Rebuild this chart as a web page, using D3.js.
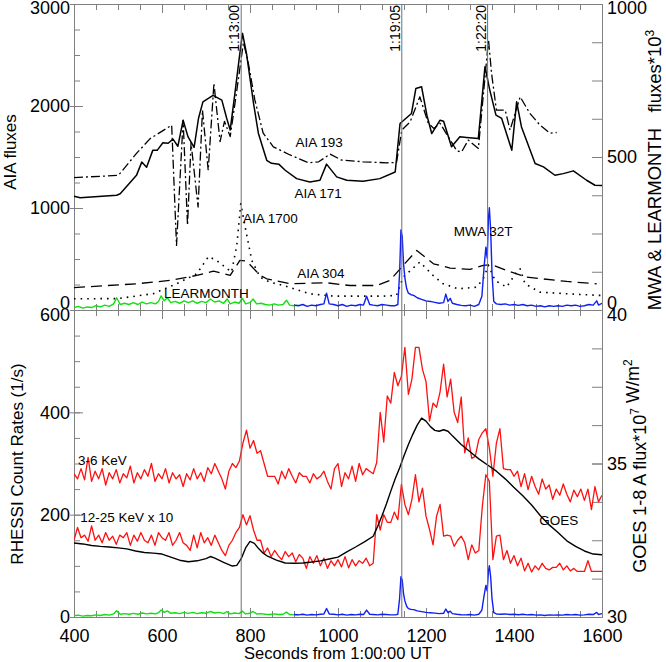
<!DOCTYPE html>
<html><head><meta charset="utf-8">
<script src="https://cdn.jsdelivr.net/npm/d3@7"></script>
<style>body{margin:0;background:#fff} text{font-family:"Liberation Sans",Arial,Helvetica,sans-serif}</style>
</head><body><svg id="c" width="666" height="662"></svg>
<script>
// ---------------- DATA ----------------
const markerTimes = [780, 1145, 1340];
const markerLabels = ["1:13:00", "1:19:05", "1:22:20"];

const aia171 = [[400,1115],[414,1100],[497,1125],[505,1140],[542,1320],[554,1450],[565,1400],[579,1565],[589,1565],[602,1640],[614,1635],[625,1675],[636,1605],[648,1860],[659,1700],[673,1595],[683,1880],[693,2040],[716,2105],[736,2058],[747,1880],[755,1765],[765,2100],[775,2450],[783,2712],[792,2515],[808,2027],[819,1733],[838,1468],[849,1438],[866,1428],[880,1370],[906,1288],[936,1255],[959,1272],[974,1430],[997,1305],[1020,1272],[1057,1262],[1095,1288],[1130,1353],[1141,1828],[1167,1927],[1177,2172],[1190,2188],[1202,1910],[1213,1730],[1232,1861],[1240,1850],[1258,1600],[1277,1698],[1292,1692],[1319,1682],[1334,2386],[1345,2156],[1359,1910],[1372,1878],[1395,1567],[1406,2041],[1417,1795],[1448,1436],[1467,1403],[1493,1321],[1512,1337],[1535,1364],[1565,1272],[1584,1223],[1600,1220]];

const aia193 = [[400,1298],[501,1320],[542,1535],[573,1680],[622,1812],[633,633],[648,1860],[658,830],[666,1640],[682,1010],[692,1960],[705,1370],[718,2222],[732,1650],[742,1850],[755,1700],[770,2150],[785,2620],[795,2450],[811,2060],[830,1733],[853,1600],[891,1520],[933,1443],[956,1453],[982,1528],[1008,1470],[1057,1453],[1111,1443],[1133,1446],[1145,1764],[1164,1845],[1186,2090],[1205,1832],[1218,1780],[1232,1830],[1270,1560],[1281,1550],[1296,1666],[1319,1584],[1342,2650],[1349,2320],[1360,1960],[1380,1960],[1391,1764],[1414,2090],[1436,1928],[1459,1813],[1482,1733],[1497,1740]];

const aia1700 = [[400,110],[500,112],[580,160],[633,257],[679,355],[706,525],[724,486],[758,371],[770,633],[779,1043],[789,813],[804,486],[823,322],[845,273],[876,240],[936,159],[989,136],[1103,136],[1133,143],[1148,322],[1186,470],[1216,339],[1239,257],[1273,208],[1315,224],[1330,306],[1342,437],[1357,290],[1383,224],[1406,371],[1414,404],[1425,257],[1459,175],[1520,159],[1595,143],[1600,143]];

const aia304 = [[400,220],[542,257],[618,290],[679,339],[717,381],[755,339],[777,486],[792,480],[823,339],[838,306],[891,257],[974,267],[1027,240],[1088,240],[1118,290],[1148,437],[1179,584],[1217,453],[1255,411],[1300,398],[1330,437],[1349,444],[1383,388],[1429,322],[1520,280],[1588,257]];

const learmonth = [[400,8],[410,12],[420,6],[430,10],[440,8],[450,14],[460,10],[470,16],[480,12],[490,20],[497,40],[505,18],[515,22],[525,18],[535,24],[545,18],[555,26],[565,20],[575,24],[585,20],[592,28],[598,46],[605,30],[612,40],[620,24],[630,28],[640,22],[650,30],[660,24],[670,30],[680,22],[690,28],[700,24],[710,36],[720,26],[730,30],[740,22],[748,36],[755,20],[765,26],[775,22],[783,38],[790,20],[800,24],[807,36],[815,20],[825,22],[835,18],[845,16],[855,20],[865,16],[875,18],[883,32],[890,16],[900,14],[910,16]];

const mwa32t = [[900,16],[910,14],[920,18],[930,12],[940,16],[950,14],[960,18],[968,20],[974,55],[980,20],[990,18],[1000,14],[1010,18],[1020,12],[1030,16],[1040,14],[1050,18],[1058,16],[1065,45],[1072,18],[1080,16],[1090,14],[1100,18],[1110,16],[1120,14],[1130,14],[1136,18],[1140,120],[1143,262],[1146,240],[1149,150],[1152,105],[1156,70],[1160,55],[1166,50],[1172,48],[1180,40],[1190,35],[1200,30],[1210,28],[1220,25],[1230,22],[1240,24],[1245,52],[1250,28],[1255,38],[1260,22],[1270,18],[1280,15],[1290,14],[1300,16],[1310,12],[1320,18],[1327,45],[1332,140],[1336,205],[1339,170],[1342,300],[1344,334],[1347,260],[1350,120],[1354,28],[1360,20],[1370,18],[1380,20],[1390,16],[1400,18],[1410,15],[1420,18],[1430,14],[1440,16],[1450,12],[1460,14],[1470,10],[1480,14],[1490,12],[1500,14],[1510,12],[1520,16],[1530,14],[1540,16],[1550,12],[1560,14],[1570,18],[1580,16],[1588,30],[1592,16],[1600,22]];

// RHESSI, 8 s cadence starting at 400 s
const rhessiStart = 400, rhessiStep = 8;
const rhessi3to6 = [
 280,270,290,268,312,265,285,270,290,258,
 282,270,288,262,280,272,295,262,282,270,
 288,275,300,265,280,270,290,262,282,270,
 278,255,280,268,290,270,282,265,292,280,
 300,285,270,250,285,300,292,305,340,365,
 330,345,320,325,300,275,275,275,260,285,
 270,290,275,262,282,275,275,262,280,270,
 275,285,265,250,290,300,255,282,270,295,
 265,300,278,290,285,280,302,400,342,432,
 418,478,452,470,527,435,465,527,527,484,
 460,383,418,410,440,494,430,465,400,380,
 430,321,350,310,314,347,360,368,330,275,
 340,368,290,288,288,275,285,255,280,249,
 275,255,240,270,250,258,230,250,238,260,
 240,225,248,235,250,228,250,210,255,225,
 238];
const rhessi12to25x10 = [
 150,175,155,160,148,178,150,160,145,165,
 150,158,142,160,155,165,140,160,148,165,
 150,145,160,140,165,155,150,165,140,150,
 165,145,140,130,160,135,165,145,155,140,
 160,145,130,120,140,150,165,175,200,180,
 198,170,150,150,125,135,118,130,120,112,
 128,118,125,108,122,115,95,118,105,120,
 100,115,95,110,100,112,98,118,96,112,
 100,110,105,115,100,105,200,170,200,185,
 185,205,190,259,220,200,230,278,225,252,
 197,171,141,197,220,158,160,158,138,150,
 158,145,112,141,125,130,216,278,265,112,
 158,160,112,130,105,120,100,115,90,105,
 88,100,92,105,95,92,97,97,105,92,
 100,90,95,89,89,89,110,89,89,89,
 89];

const goes = [[400,32.41],[420,32.38],[440,32.33],[460,32.30],[480,32.28],[500,32.25],[520,32.22],[540,32.15],[560,32.10],[580,32.08],[600,32.05],[620,31.95],[640,31.85],[660,31.80],[680,31.83],[700,31.90],[710,31.97],[720,31.92],[740,31.78],[760,31.66],[770,31.68],[780,31.90],[790,32.25],[800,32.46],[810,32.40],[820,32.22],[830,32.08],[840,31.98],[860,31.85],[880,31.76],[900,31.75],[920,31.76],[940,31.79],[960,31.83],[980,31.89],[1000,31.95],[1020,32.12],[1040,32.28],[1060,32.45],[1080,32.63],[1090,32.95],[1100,33.30],[1110,33.68],[1120,34.10],[1130,34.50],[1140,34.85],[1150,35.25],[1160,35.62],[1170,35.95],[1180,36.25],[1190,36.48],[1200,36.38],[1210,36.20],[1220,36.08],[1230,36.05],[1240,36.10],[1250,36.05],[1260,35.90],[1280,35.62],[1300,35.38],[1320,35.15],[1340,34.95],[1360,34.75],[1380,34.50],[1400,34.22],[1420,33.95],[1440,33.65],[1460,33.30],[1480,33.00],[1500,32.75],[1520,32.48],[1540,32.30],[1560,32.15],[1580,32.05],[1600,32.03]];

// tick values
const xMajor = [400,600,800,1000,1200,1400,1600];
const aiaTicks = [0,1000,2000,3000];
const radioTicks = [0,500,1000];
const rhessiTicks = [0,200,400,600];
const goesTicks = [30,35,40];

// annotations in data coordinates
const topNotes = [
 {t:"AIA 193", x:957, y:1596, a:"middle"},
 {t:"AIA 171", x:955, y:1095, a:"middle"},
 {t:"AIA 1700", x:784, y:850, a:"start"},
 {t:"AIA 304", x:961, y:309, a:"middle"},
 {t:"LEARMONTH", x:701, y:113, a:"middle"},
 {t:"MWA 32T", x:1330, y:722, a:"middle"}];
const botNotes = [
 {t:"3-6 KeV", x:409, y:298, a:"start"},
 {t:"12-25 KeV x 10", x:414, y:186, a:"start"},
 {t:"GOES", x:1502, y:179, a:"middle"}];

// ---------------- LAYOUT ----------------
const L=74, R=602, T1=4, B1=310, T2=310, B2=617;
const svg = d3.select("#c");
const x = d3.scaleLinear().domain([400,1600]).range([L,R]);
const yAIA = d3.scaleLinear().domain([0,3000]).range([B1,T1]);
const yRadTop = d3.scaleLinear().domain([0,1000]).range([B1,T1]);
const yRH = d3.scaleLinear().domain([0,600]).range([B2,T2]);
const yGOES = d3.scaleLinear().domain([30,40]).range([B2,T2]);
const yRadBot = d3.scaleLinear().domain([0,2000]).range([B2,T2]);

const defs = svg.append("defs");
defs.append("clipPath").attr("id","c1").append("rect").attr("x",L).attr("y",T1).attr("width",R-L).attr("height",B1-T1);
defs.append("clipPath").attr("id","c2").append("rect").attr("x",L).attr("y",T2).attr("width",R-L).attr("height",B2-T2);

const range = (a,b,s)=>d3.range(a,b+s/2,s);
const AX="#808080";
function styleAxis(g){ g.selectAll("path.domain").attr("stroke",AX).attr("stroke-width",1);
  g.selectAll(".tick line").attr("stroke",AX).attr("stroke-width",1);
  g.selectAll("text").attr("fill","#000").style("font-size","18px").style("font-family","'Liberation Sans',Arial,sans-serif"); }
function ax(gen, tr, vals, size, fmt, pad){
  const g = svg.append("g").attr("transform",tr)
   .call(gen.tickValues(vals).tickSizeInner(size).tickSizeOuter(0).tickPadding(pad||4).tickFormat(fmt||(()=>"")));
  styleAxis(g); return g;
}
// X axes (4 edges)
[[T1,"top"],[B1,"bottom"],[T2,"top"],[B2,"bottom"]].forEach(([yy,edge],i)=>{
  const mk = ()=> edge==="top"? d3.axisTop(x) : d3.axisBottom(x);
  ax(mk(), `translate(0,${yy})`, range(400,1600,50), -6);
  ax(mk(), `translate(0,${yy})`, xMajor, -9, i===3? d3.format("d") : null, 12);
});
// left axes
ax(d3.axisLeft(yAIA), `translate(${L},0)`, range(0,3000,250), -6);
const gA = ax(d3.axisLeft(yAIA), `translate(${L},0)`, aiaTicks, -9, d3.format("d"), 4);
ax(d3.axisLeft(yAIA), `translate(${L},0)`, aiaTicks, 4);
ax(d3.axisLeft(yRH), `translate(${L},0)`, range(0,600,50), -6);
const gR = ax(d3.axisLeft(yRH), `translate(${L},0)`, rhessiTicks, -9, d3.format("d"), 4);
ax(d3.axisLeft(yRH), `translate(${L},0)`, rhessiTicks, 4);
// right axes
ax(d3.axisRight(yRadTop), `translate(${R},0)`, range(0,1000,125), -10);
const gM = ax(d3.axisRight(yRadTop), `translate(${R},0)`, radioTicks, -10, d3.format("d"), 5);
ax(d3.axisRight(yGOES), `translate(${R},0)`, range(30,40,1.25), -10);
const gG = ax(d3.axisRight(yGOES), `translate(${R},0)`, goesTicks, -10, d3.format("d"), 5);
// overlapping labels at the panel boundary (as in the original figure)
gA.selectAll(".tick text").filter(d=>d===0).attr("transform","translate(0,-7)");
gR.selectAll(".tick text").filter(d=>d===600).attr("transform","translate(0,5)");
gM.selectAll(".tick text").filter(d=>d===0).attr("transform","translate(0,-7)");
gG.selectAll(".tick text").filter(d=>d===40).attr("transform","translate(0,5)");
gA.selectAll(".tick text").filter(d=>d===3000).attr("transform","translate(0,4)");
gM.selectAll(".tick text").filter(d=>d===1000).attr("transform","translate(0,4)");

// ---------------- LINES ----------------
const p1 = svg.append("g").attr("clip-path","url(#c1)");
const p2 = svg.append("g").attr("clip-path","url(#c2)");
const lineXY = (ys)=>d3.line().x(d=>x(d[0])).y(d=>ys(d[1]));
const asPairs = (arr)=>arr.map((v,i)=>[rhessiStart+i*rhessiStep, v]);

function draw(g, data, gen, color, w, dash){
  g.append("path").datum(data).attr("d",gen).attr("fill","none").attr("stroke",color)
   .attr("stroke-width",w).attr("stroke-linejoin","round").attr("stroke-dasharray",dash||null);
}
const GREEN="#10e010", BLUE="#1020f0", RED="#ff1010";
// top panel
draw(p1, aia304, lineXY(yAIA), "#000", 1.3, "11,6");
draw(p1, aia1700, lineXY(yAIA), "#000", 1.6, "1.6,5");
draw(p1, aia193, lineXY(yAIA), "#000", 1.3, "9,3,2,3");
draw(p1, aia171, lineXY(yAIA), "#000", 1.5);
draw(p1, learmonth, lineXY(yRadTop), GREEN, 1.4);
draw(p1, mwa32t, lineXY(yRadTop), BLUE, 1.4);
// bottom panel
draw(p2, learmonth, lineXY(yRadBot), GREEN, 1.4);
draw(p2, mwa32t, lineXY(yRadBot), BLUE, 1.4);
draw(p2, asPairs(rhessi3to6), lineXY(yRH), RED, 1.3);
draw(p2, asPairs(rhessi12to25x10), lineXY(yRH), RED, 1.3);
draw(p2, goes, lineXY(yGOES), "#000", 1.4);

// marker lines
markerTimes.forEach((t,i)=>{
  svg.append("line").attr("x1",x(t)).attr("x2",x(t)).attr("y1",T1).attr("y2",B2)
    .attr("stroke","#707070").attr("stroke-width",1);
  svg.append("text").attr("transform",`translate(${x(t)-2},${T1+1}) rotate(-90)`)
    .attr("text-anchor","end").style("font-size","14px").text(markerLabels[i]);
});

// annotations
topNotes.forEach(n=>svg.append("text").attr("x",x(n.x)).attr("y",yAIA(n.y)).attr("text-anchor",n.a)
  .style("font-size","13.5px").text(n.t));
botNotes.forEach(n=>svg.append("text").attr("x",x(n.x)).attr("y",yRH(n.y)).attr("text-anchor",n.a)
  .style("font-size","13.5px").text(n.t));

// axis titles
function vtitle(cx, cy, parts, fs){
  const t = svg.append("text").attr("transform",`translate(${cx},${cy}) rotate(-90)`)
    .attr("text-anchor","middle").style("font-size",fs+"px").style("white-space","pre");
  parts.forEach(p=>{
    if(p.sup){ t.append("tspan").attr("dy",-7).style("font-size","12px").text(p.s);
               t.append("tspan").attr("dy",7).text(""); }
    else t.append("tspan").text(p.s);
  });
}
vtitle(16, 152, [{s:"AIA fluxes"}], 17);
vtitle(23, 464, [{s:"RHESSI Count Rates (1/s)"}], 17);
vtitle(661, 170, [{s:"MWA & LEARMONTH   fluxes*10"},{s:"3",sup:true}], 18.5);
vtitle(646, 466, [{s:"GOES 1-8 A flux*10"},{s:"7",sup:true},{s:" W/m"},{s:"2",sup:true}], 18);
svg.append("text").attr("x",(L+R)/2).attr("y",659).attr("text-anchor","middle")
  .style("font-size","16.5px").text("Seconds from 1:00:00 UT");
</script></body></html>
